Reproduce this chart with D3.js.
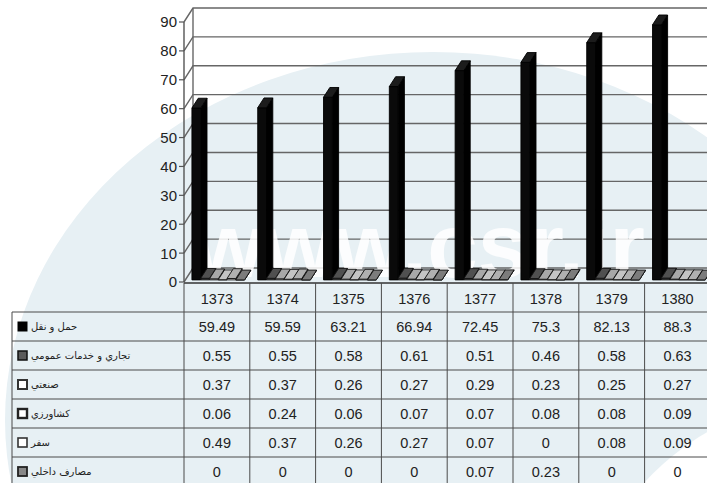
<!DOCTYPE html>
<html>
<head>
<meta charset="utf-8">
<script src="https://cdn.jsdelivr.net/npm/d3@7"></script>
<style>
  html, body { margin: 0; padding: 0; background: #fff; }
  svg { display: block; }
</style>
</head>
<body>
<svg id="chart" width="707" height="483"></svg>
<script>
// Years (categories)
const years = ['1373', '1374', '1375', '1376', '1377', '1378', '1379', '1380'];

// Series names
const seriesNames = ['حمل و نقل', 'تجاري و خدمات عمومي', 'صنعتي', 'كشاورزي', 'سفر', 'مصارف داخلي'];

// Series values per year
const transport   = [59.49, 59.59, 63.21, 66.94, 72.45, 75.3, 82.13, 88.3];
const commercial  = [0.55, 0.55, 0.58, 0.61, 0.51, 0.46, 0.58, 0.63];
const industrial  = [0.37, 0.37, 0.26, 0.27, 0.29, 0.23, 0.25, 0.27];
const agriculture = [0.06, 0.24, 0.06, 0.07, 0.07, 0.08, 0.08, 0.09];
const travel      = [0.49, 0.37, 0.26, 0.27, 0.07, 0, 0.08, 0.09];
const domestic    = [0, 0, 0, 0, 0.07, 0.23, 0, 0];

// Value axis ticks
const yTicks = [0, 10, 20, 30, 40, 50, 60, 70, 80, 90];

const seriesValues = [transport, commercial, industrial, agriculture, travel, domestic];

// Face colours for each series: front, top, side, stroke
const seriesStyle = [
  { front: '#0a0a0a', top: '#1c1c1c', side: '#000000', stroke: '#000' },
  { front: '#3a3a3a', top: '#505050', side: '#222',    stroke: '#111' },
  { front: '#dcdcdc', top: '#a8a8a8', side: '#777',    stroke: '#151515' },
  { front: '#b8b8b8', top: '#c4c4c4', side: '#666',    stroke: '#151515' },
  { front: '#dcdcdc', top: '#b0b0b0', side: '#777',    stroke: '#151515' },
  { front: '#606060', top: '#7c7c7c', side: '#3c3c3c', stroke: '#111' }
];
const keyStyle = [
  { fill: '#000',    stroke: '#000', sw: 1 },
  { fill: '#5a5a5a', stroke: '#111', sw: 1.5 },
  { fill: '#fff',    stroke: '#333', sw: 2 },
  { fill: '#fff',    stroke: '#222', sw: 2.4 },
  { fill: '#fff',    stroke: '#333', sw: 1.6 },
  { fill: '#888',    stroke: '#222', sw: 1.8 }
];

const svg = d3.select('#chart');
const W = 707, H = 483;

// Layout of the 3D plot and the data table underneath
const plotLeft = 184;
const catW = 65.8;
const depthX = 9, depthY = -14;      // oblique offset of the back wall
const zFront = 0.15, zBack = 0.85;   // depth span occupied by the columns
const tableTop = 283;
const rowH = 29;
const legendLeft = 12;

const x = d3.scaleBand().domain(years)
  .range([plotLeft, plotLeft + catW * years.length])
  .paddingInner(0).paddingOuter(0);
const sub = d3.scaleBand().domain(d3.range(seriesNames.length))
  .range([0, x.bandwidth()])
  .paddingInner(0).paddingOuter(0.75);
const y = d3.scaleLinear().domain([0, 90]).range([282, 22]);

const P = (px, v, z) => [px + z * depthX, y(v) + z * depthY];
const poly = pts => 'M' + pts.map(p => p.join(',')).join('L') + 'Z';

// Background emblem: large pale arc with a bite taken out at lower right
const defs = svg.append('defs');
const mask = defs.append('mask').attr('id', 'arcMask');
mask.append('rect').attr('width', W).attr('height', H).attr('fill', '#fff');
mask.append('circle').attr('cx', 830).attr('cy', 650).attr('r', 250).attr('fill', '#000');
svg.append('ellipse')
  .attr('cx', 433).attr('cy', 420).attr('rx', 428).attr('ry', 368)
  .attr('fill', '#e7f0f4')
  .attr('mask', 'url(#arcMask)');

const right = x.range()[1];

// Walls and gridlines
const grid = svg.append('g').attr('fill', 'none').attr('stroke', '#666').attr('stroke-width', 1.4);
yTicks.forEach(t => {
  const a = P(plotLeft, t, 0), b = P(plotLeft, t, 1), c = P(right, t, 1);
  grid.append('path').attr('d', `M${a}L${b}L${c}`);
});
// left wall edges
grid.append('line')
  .attr('x1', plotLeft).attr('y1', y(0)).attr('x2', plotLeft).attr('y2', y(90))
  .attr('stroke', '#555');
grid.append('line')
  .attr('x1', plotLeft + depthX).attr('y1', y(0) + depthY)
  .attr('x2', plotLeft + depthX).attr('y2', y(90) + depthY);

// Value axis ticks and labels
const yAxis = svg.append('g');
yTicks.forEach(t => {
  yAxis.append('line')
    .attr('x1', plotLeft - 5).attr('x2', plotLeft).attr('y1', y(t)).attr('y2', y(t))
    .attr('stroke', '#555').attr('stroke-width', 1.2);
  yAxis.append('text')
    .attr('x', plotLeft - 7).attr('y', y(t)).attr('dy', '0.36em')
    .attr('text-anchor', 'end')
    .attr('font-family', 'Liberation Sans, Arial, sans-serif')
    .attr('font-size', 15).attr('fill', '#222')
    .text(t);
});

// Watermark
svg.append('text')
  .attr('x', 193).attr('y', 277)
  .attr('font-family', 'Liberation Sans, Arial, sans-serif')
  .attr('font-weight', 'bold').attr('font-size', 91)
  .attr('fill', '#fff').attr('fill-opacity', 0.85)
  .text('www.csr.ir');

// 3D columns, drawn left to right so nearer faces overlap correctly
const bars = svg.append('g');
years.forEach((yr, i) => {
  seriesValues.forEach((vals, s) => {
    const v = vals[i];
    const st = seriesStyle[s];
    const x0 = x(yr) + sub(s), x1 = x0 + sub.bandwidth();
    const front = poly([P(x0, 0, zFront), P(x1, 0, zFront), P(x1, v, zFront), P(x0, v, zFront)]);
    const side = poly([P(x1, 0, zFront), P(x1, 0, zBack), P(x1, v, zBack), P(x1, v, zFront)]);
    const top = poly([P(x0, v, zFront), P(x1, v, zFront), P(x1, v, zBack), P(x0, v, zBack)]);
    const g = bars.append('g').attr('stroke', st.stroke).attr('stroke-width', 0.9).attr('stroke-linejoin', 'round');
    g.append('path').attr('d', side).attr('fill', st.side);
    g.append('path').attr('d', front).attr('fill', st.front);
    g.append('path').attr('d', top).attr('fill', st.top);
  });
});

// Data table
const table = svg.append('g');
const lineColor = '#4a4a4a';
const rowsBottom = tableTop + rowH * (seriesNames.length + 1);

// horizontal rules
table.append('line')
  .attr('x1', plotLeft).attr('x2', W + 10).attr('y1', tableTop).attr('y2', tableTop)
  .attr('stroke', '#333').attr('stroke-width', 1.6);
for (let r = 1; r <= seriesNames.length + 1; r++) {
  const yy = tableTop + r * rowH;
  table.append('line')
    .attr('x1', legendLeft).attr('x2', W + 10).attr('y1', yy).attr('y2', yy)
    .attr('stroke', lineColor).attr('stroke-width', 1);
}
// vertical rules
table.append('line')
  .attr('x1', legendLeft).attr('x2', legendLeft)
  .attr('y1', tableTop + rowH).attr('y2', rowsBottom)
  .attr('stroke', lineColor);
years.forEach(yr => {
  table.append('line')
    .attr('x1', x(yr)).attr('x2', x(yr)).attr('y1', tableTop).attr('y2', rowsBottom)
    .attr('stroke', lineColor);
});

const numFont = 'Liberation Sans, Arial, sans-serif';
// year header
years.forEach(yr => {
  table.append('text')
    .attr('x', x(yr) + x.bandwidth() / 2).attr('y', tableTop + rowH / 2 + 1).attr('dy', '0.36em')
    .attr('text-anchor', 'middle')
    .attr('font-family', numFont).attr('font-size', 14.5).attr('fill', '#222')
    .text(yr);
});
// value rows with legend keys
seriesNames.forEach((name, s) => {
  const cy = tableTop + rowH * (s + 1) + rowH / 2;
  const k = keyStyle[s];
  table.append('rect')
    .attr('x', 18).attr('y', cy - 4.5).attr('width', 9).attr('height', 9)
    .attr('fill', k.fill).attr('stroke', k.stroke).attr('stroke-width', k.sw);
  table.append('text')
    .attr('x', 31).attr('y', cy).attr('dy', '0.36em')
    .attr('font-family', 'DejaVu Sans, Noto Sans, sans-serif')
    .attr('font-size', 10).attr('fill', '#222')
    .text(name);
  seriesValues[s].forEach((v, i) => {
    table.append('text')
      .attr('x', x(years[i]) + x.bandwidth() / 2).attr('y', cy).attr('dy', '0.36em')
      .attr('text-anchor', 'middle')
      .attr('font-family', numFont).attr('font-size', 14.5).attr('fill', '#222')
      .text(String(v));
  });
});
</script>
</body>
</html>
